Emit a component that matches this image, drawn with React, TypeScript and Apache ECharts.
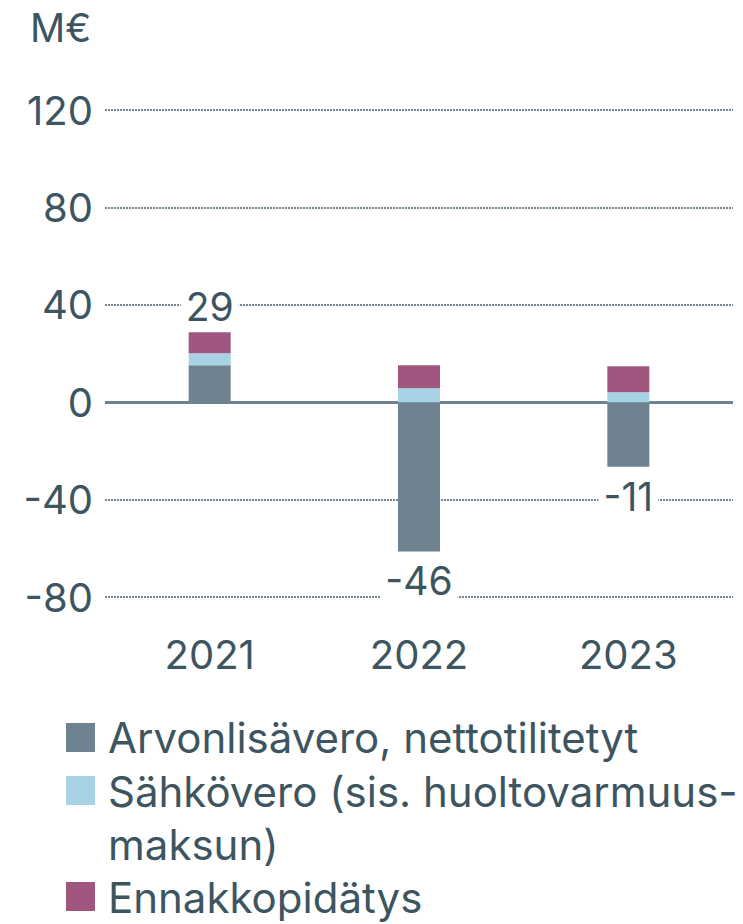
import React, { useEffect, useRef } from "react";
import * as echarts from "echarts";

const categories = ["2021", "2022", "2023"];
const seriesNames = [
  "Arvonlisävero, nettotilitetyt",
  "Sähkövero (sis. huoltovarmuus-\nmaksun)",
  "Ennakkopidätys",
];
const arvonlisavero = [15.2, -61.3, -26.5];
const sahkovero = [4.9, 5.7, 4.1];
const ennakkopidatys = [8.6, 9.5, 10.7];
const totals = [29, -46, -11];
const yTicks = { min: -80, max: 120, interval: 40 };

const colors = ["#6e8290", "#a7d3e4", "#a0577f"];
const textColor = "#3d5561";
const FONT = "Inter";

export default function App() {
  const ref = useRef<HTMLDivElement>(null);
  useEffect(() => {
    if (!ref.current) return;
    const chart = echarts.init(ref.current, undefined, { renderer: "svg" });

    const totalLabel = (pos: "top" | "bottom") => ({
      show: true,
      position: pos,
      distance: pos === "top" ? 6 : 10,
      color: textColor,
      fontFamily: FONT,
      fontSize: 39,
      backgroundColor: "#ffffff",
      padding: [0, 5],
    });

    const arvData = arvonlisavero.map((v, i) =>
      totals[i] < 0
        ? { value: v, label: { ...totalLabel("bottom"), formatter: String(totals[i]) } }
        : { value: v }
    );
    const ennData = ennakkopidatys.map((v, i) =>
      totals[i] >= 0
        ? { value: v, label: { ...totalLabel("top"), formatter: String(totals[i]) } }
        : { value: v }
    );

    const legendGraphics: any[] = [];
    const legendRows = [
      { iconY: 723, textTop: 711, text: seriesNames[0], color: colors[0] },
      { iconY: 776, textTop: 764.5, text: seriesNames[1], color: colors[1] },
      { iconY: 882, textTop: 870.5, text: seriesNames[2], color: colors[2] },
    ];
    legendRows.forEach((r) => {
      legendGraphics.push({
        type: "rect",
        left: 66,
        top: r.iconY,
        shape: { width: 29, height: 29 },
        style: { fill: r.color },
      });
      legendGraphics.push({
        type: "text",
        left: 108,
        top: r.textTop,
        style: {
          text: r.text,
          fill: textColor,
          font: `42px ${FONT}`,
          lineHeight: 53,
        },
      });
    });

    chart.setOption({
      animation: false,
      textStyle: { fontFamily: FONT },
      grid: { left: 105, right: 10, top: 110, bottom: 327, containLabel: false },
      xAxis: {
        type: "category",
        data: categories,
        axisLine: { show: false },
        axisTick: { show: false },
        axisLabel: { color: textColor, fontSize: 40, fontFamily: FONT, margin: 37 },
      },
      yAxis: {
        type: "value",
        min: yTicks.min,
        max: yTicks.max,
        interval: yTicks.interval,
        axisLine: { show: false },
        axisTick: { show: false },
        axisLabel: { color: textColor, fontSize: 40, fontFamily: FONT, margin: 12 },
        splitLine: { lineStyle: { color: "#73868f", width: 2, type: [2, 1] } },
      },
      graphic: [
        {
          type: "text",
          left: 30,
          top: 8,
          style: { text: "M€", fill: textColor, font: `39px ${FONT}` },
        },
        ...legendGraphics,
      ],
      series: [
        {
          name: seriesNames[0],
          type: "bar",
          stack: "total",
          barWidth: 42,
          data: arvData,
          itemStyle: { color: colors[0] },
          markLine: {
            silent: true,
            symbol: "none",
            label: { show: false },
            lineStyle: { color: "#6e8290", width: 3, type: "solid" },
            data: [{ yAxis: 0 }],
            z: 1,
          },
        },
        {
          name: seriesNames[1],
          type: "bar",
          stack: "total",
          barWidth: 42,
          data: sahkovero,
          itemStyle: { color: colors[1] },
        },
        {
          name: seriesNames[2],
          type: "bar",
          stack: "total",
          barWidth: 42,
          data: ennData,
          itemStyle: { color: colors[2] },
        },
      ],
    });
    return () => chart.dispose();
  }, []);
  return (
    <div
      ref={ref}
      style={{ position: "absolute", left: 0, top: 0, width: 743, height: 924 }}
    />
  );
}
